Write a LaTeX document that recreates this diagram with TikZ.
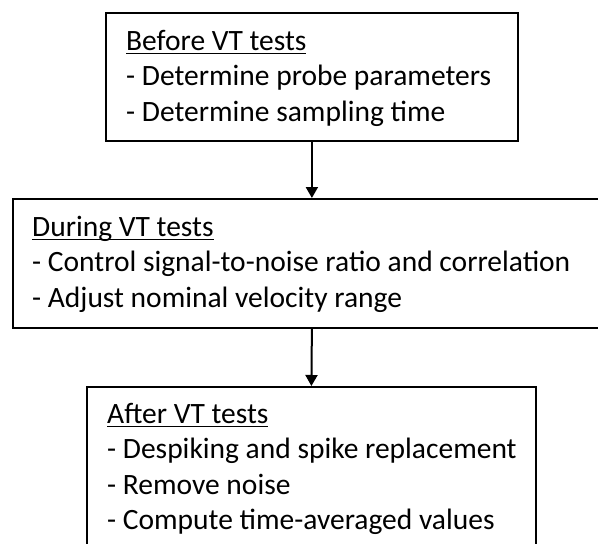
\documentclass[tikz,border=0pt]{standalone}
\usepackage{fontspec}
\setmainfont{Carlito}
\usetikzlibrary{arrows.meta,calc}
\newcommand\myul[1]{{\setbox0\hbox{#1}\rlap{\rule[-4pt]{\wd0}{1.7pt}}\box0}}
\newcommand\mystrut{\rule{0pt}{24pt}}
\begin{document}
\begin{tikzpicture}[x=1pt,y=-1pt,
  box/.style={draw=black,line width=1.8pt,anchor=north west,inner sep=0pt},
  txt/.style={anchor=north west,inner sep=0pt,align=left,font=\fontsize{29.5}{35.5}\selectfont},
  flow/.style={line width=2pt,-{Triangle[length=11pt,width=12pt]}}]
\useasboundingbox (0,0) rectangle (598,544);
\node[box,minimum width=412pt,minimum height=128pt] (b1) at (105,12) {};
\node[box,minimum width=598pt,minimum height=129pt] (b2) at (12,198) {};
\node[box,minimum width=449pt,minimum height=180pt] (b3) at (86,386) {};
\node[txt] (t1) at ($(b1.north west)+(21,14)$) {\mystrut\myul{Before VT tests}\\- Determine probe parameters\\- Determine sampling time};
\node[txt] (t2) at ($(b2.north west)+(20,14)$) {\mystrut\myul{During VT tests}\\- Control signal-to-noise ratio and correlation\\- Adjust nominal velocity range};
\node[txt] (t3) at ($(b3.north west)+(21,13)$) {\mystrut\myul{After VT tests}\\- Despiking and spike replacement\\- Remove noise\\- Compute time-averaged values};
\draw[flow] (b1.south) -- (b2.north);
\draw[flow] (b2.south) -- (b3.north);
\end{tikzpicture}
\end{document}
